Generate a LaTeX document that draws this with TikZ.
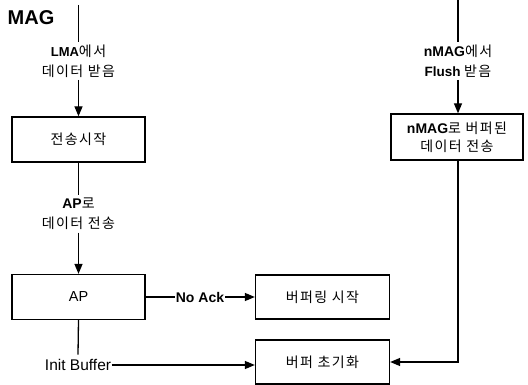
\documentclass[tikz,border=0pt]{standalone}
\usepackage{fontspec}
\setmainfont{Liberation Sans}
\newfontfamily\kr[LetterSpace=10]{Noto Sans CJK KR}
\newcommand{\ko}[1]{{\kr\fontsize{14}{20}\selectfont #1}}
\usetikzlibrary{arrows.meta}
\begin{document}
\begin{tikzpicture}[x=1pt,y=-1pt,
  line width=1.3pt,
  box/.style={draw,line width=1.3pt,minimum width=133pt,minimum height=45pt,inner sep=0pt,align=center,font=\fontsize{13}{18}\selectfont},
  lbl/.style={align=center,inner xsep=1pt,inner ysep=2pt,font=\fontsize{13}{20}\selectfont},
  arr/.style={-{Triangle[length=10pt,width=8pt]}}]
\useasboundingbox (0,0) rectangle (528,385);
% title
\node[font=\fontsize{20}{22}\selectfont\bfseries] (mag) at (31,18) {MAG};
% left column
\coordinate (ltop) at (78.5,5);
\node[lbl] (lab1) at (78.5,61) {{\bfseries LMA}\ko{에서}\\\ko{데이터 받음}};
\node[box] (b1) at (78.5,139.5) {\ko{전송시작}};
\node[lbl] (lab2) at (78.5,214) {{\fontsize{14}{20}\selectfont\bfseries AP}\ko{로}\\\ko{데이터 전송}};
\node[box] (ap) at (78.5,297) {{\fontsize{14.5}{17}\selectfont AP}};
\node[font=\fontsize{14}{16}\selectfont\bfseries,inner xsep=0.5pt,inner ysep=0pt] (na) at (200,297) {No Ack};
\node[box,minimum width=134pt,minimum height=44pt] (buf1) at (322.5,297) {\ko{버퍼링 시작}};
\node[font=\fontsize{15.5}{17}\selectfont,inner xsep=0pt,inner ysep=4pt] (ib) at (78,365) {Init Buffer};
\node[box,minimum width=134pt,minimum height=44pt] (buf2) at (322.5,362) {\ko{버퍼 초기화}};
% right column
\coordinate (rtop) at (458,0);
\node[lbl] (lab3) at (458,61) {{\fontsize{14}{20}\selectfont\bfseries nMAG}\ko{에서}\\{\fontsize{13.5}{20}\selectfont\bfseries Flush} \ko{받음}};
\node[box,minimum width=132pt,minimum height=46pt] (rb) at (457,137) {{\fontsize{14}{18}\selectfont\bfseries nMAG}\ko{로 버퍼된}\\\ko{데이터 전송}};
% connectors
\draw (ltop) -- (lab1.north);
\draw[arr] (lab1.south) -- (b1.north);
\draw (b1.south) -- (lab2.north);
\draw[arr] (lab2.south) -- (ap.north);
\draw (ap.east) -- (na.west);
\draw[arr] (na.east) -- (buf1.west);
\draw (ap.south) -- (ib.north);
\draw[arr] (ib.east) -- (ib.east -| buf2.west);
\draw (rtop) -- (lab3.north);
\draw[arr] (lab3.south) -- (lab3.south |- rb.north);
\draw[arr] (rb.south -| rtop) |- (buf2.east);
\end{tikzpicture}
\end{document}
